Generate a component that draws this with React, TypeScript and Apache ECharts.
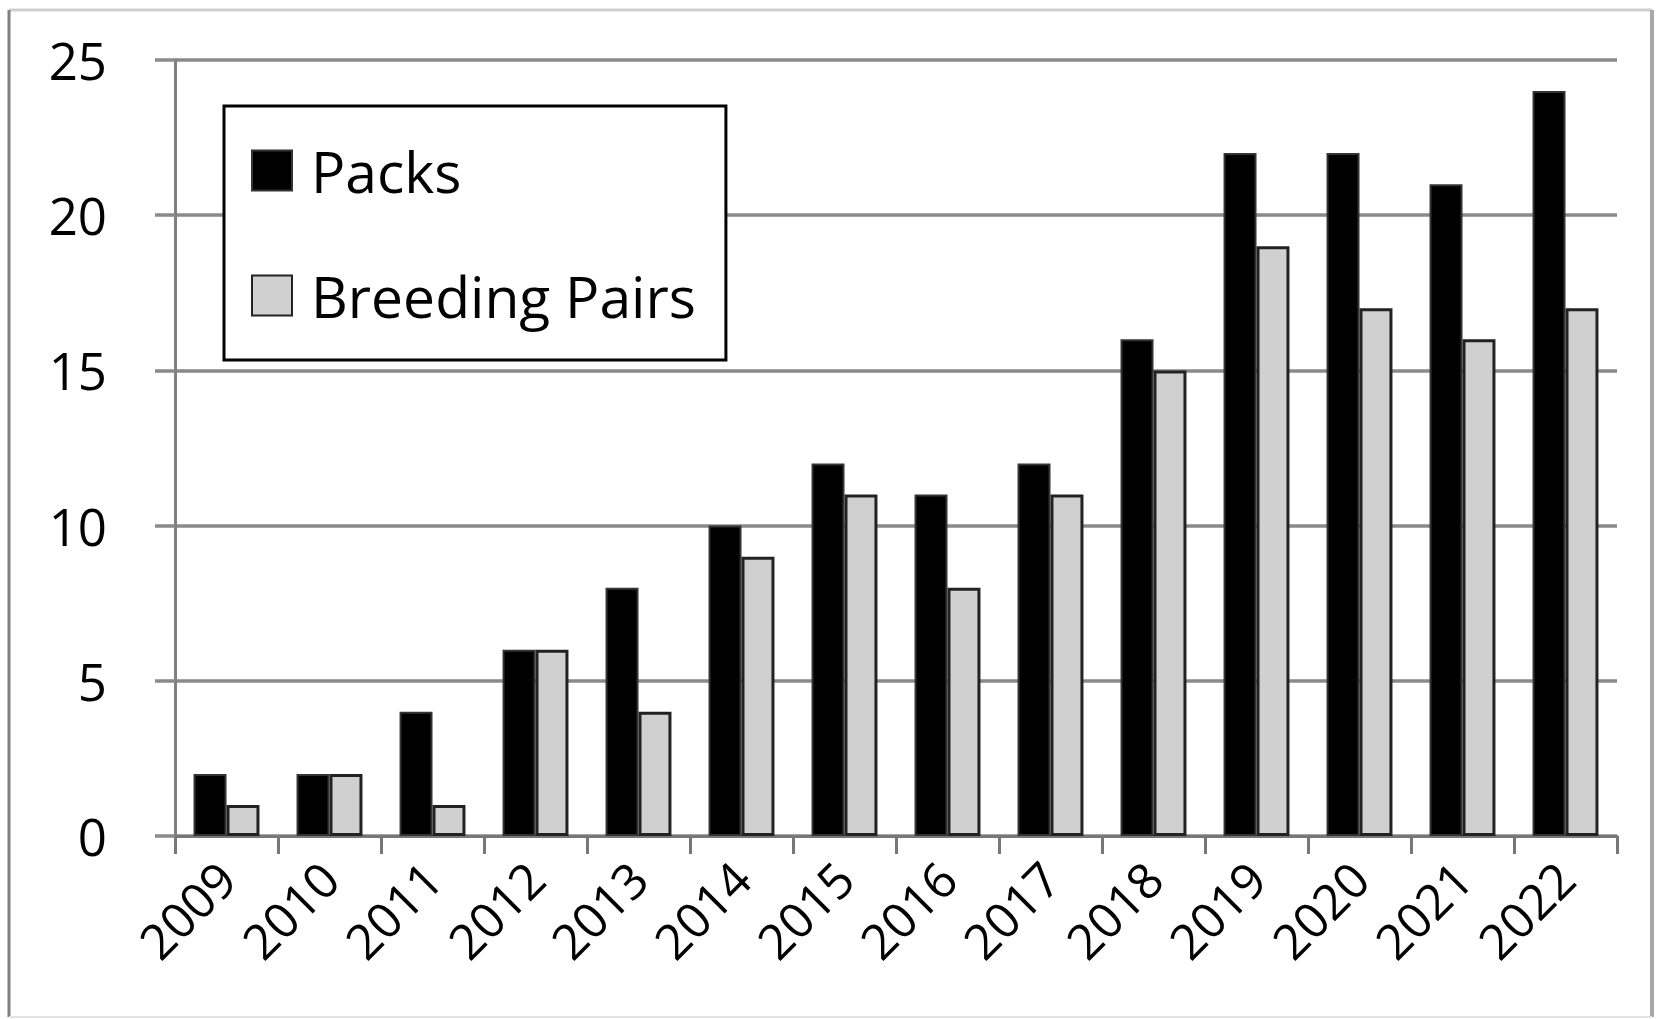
import React, { useEffect, useRef } from "react";
import * as echarts from "echarts";

const years = ["2009", "2010", "2011", "2012", "2013", "2014", "2015", "2016", "2017", "2018", "2019", "2020", "2021", "2022"];
const packs = [2, 2, 4, 6, 8, 10, 12, 11, 12, 16, 22, 22, 21, 24];
const breedingPairs = [1, 2, 1, 6, 4, 9, 11, 8, 11, 15, 19, 17, 16, 17];
const yTicks = [0, 5, 10, 15, 20, 25];

const FONT = "Open Sans";

export default function App() {
  const ref = useRef<HTMLDivElement>(null);
  useEffect(() => {
    if (!ref.current) return;
    const chart = echarts.init(ref.current, null, { renderer: "svg" });
    const option: any = {
      animation: false,
      backgroundColor: "#ffffff",
      grid: { left: 175, top: 60, right: 42, bottom: 183, containLabel: false },
      legend: {
        orient: "vertical",
        left: 224,
        top: 106,
        padding: [36, 30, 36, 27],
        itemGap: 68,
        itemWidth: 40,
        itemHeight: 40,
        icon: "rect",
        backgroundColor: "#ffffff",
        borderColor: "#000000",
        borderWidth: 3,
        textStyle: { fontFamily: FONT, fontSize: 57, color: "#000", padding: [0, 0, 0, 14] },
        data: ["Packs", "Breeding Pairs"],
      },
      xAxis: {
        type: "category",
        data: years,
        boundaryGap: true,
        axisLine: { lineStyle: { color: "#777777", width: 3 } },
        axisTick: { show: true, alignWithLabel: false, length: 18, lineStyle: { color: "#777777", width: 3 } },
        axisLabel: {
          rotate: 45,
          margin: 34,
          fontFamily: FONT,
          fontSize: 49,
          color: "#000",
          interval: 0,
        },
      },
      yAxis: {
        type: "value",
        min: yTicks[0],
        max: yTicks[yTicks.length - 1],
        interval: 5,
        axisLine: { show: true, lineStyle: { color: "#808080", width: 3 } },
        axisTick: { show: true, length: 20, lineStyle: { color: "#8a8a8a", width: 3.5 } },
        splitLine: { show: true, lineStyle: { color: "#8a8a8a", width: 3.5 } },
        axisLabel: { margin: 68, fontFamily: FONT, fontSize: 51, color: "#000" },
      },
      series: [
        {
          name: "Packs",
          type: "bar",
          data: packs,
          barGap: "0%",
          barCategoryGap: "36%",
          itemStyle: { color: "#000000", borderColor: "#333333", borderWidth: 2 },
        },
        {
          name: "Breeding Pairs",
          type: "bar",
          data: breedingPairs,
          barGap: "0%",
          barCategoryGap: "36%",
          itemStyle: { color: "#d0d0d0", borderColor: "#222222", borderWidth: 3 },
        },
      ],
      graphic: [
        { type: "line", shape: { x1: 9, y1: 10, x2: 1652, y2: 10 }, style: { stroke: "#d0d0d0", lineWidth: 3 } },
        { type: "line", shape: { x1: 9, y1: 10, x2: 9, y2: 1017 }, style: { stroke: "#808080", lineWidth: 3 } },
        { type: "line", shape: { x1: 1652, y1: 10, x2: 1652, y2: 1017 }, style: { stroke: "#a8a8a8", lineWidth: 4 } },
        { type: "line", shape: { x1: 9, y1: 1017, x2: 1652, y2: 1017 }, style: { stroke: "#e4e4e4", lineWidth: 2 } },
      ],
    };
    chart.setOption(option);
    return () => chart.dispose();
  }, []);
  return (
    <div
      ref={ref}
      style={{ position: "absolute", left: 0, top: 0, width: 1659, height: 1019 }}
    />
  );
}
